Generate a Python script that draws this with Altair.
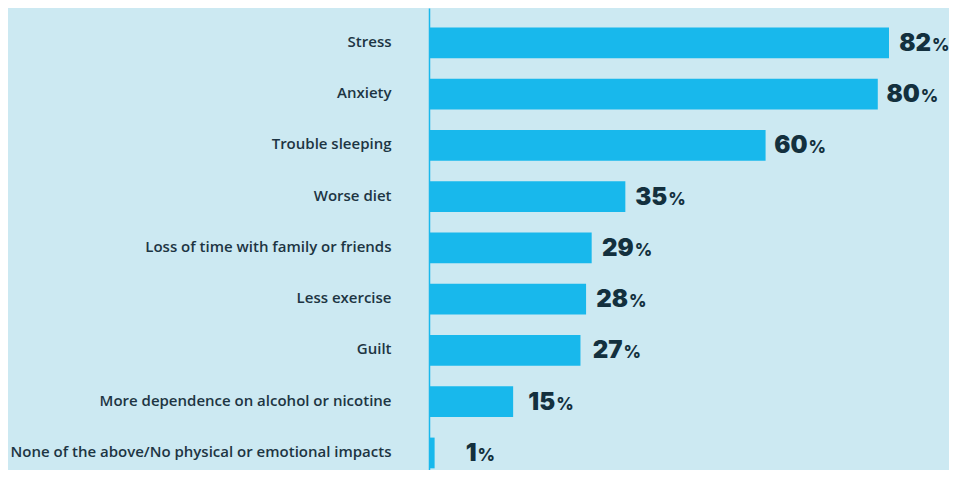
import altair as alt
import pandas as pd

categories = [
    "Stress",
    "Anxiety",
    "Trouble sleeping",
    "Worse diet",
    "Loss of time with family or friends",
    "Less exercise",
    "Guilt",
    "More dependence on alcohol or nicotine",
    "None of the above/No physical or emotional impacts",
]
values = [82, 80, 60, 35, 29, 28, 27, 15, 1]

df = pd.DataFrame({"category": categories, "value": values})

BG = "#cce9f2"
BLUE = "#18b8ec"
LABEL = "#1d3543"
VALUE = "#13303e"

y_enc = alt.Y(
    "category:N",
    sort=categories,
    scale=alt.Scale(paddingInner=0.4, paddingOuter=0.2073, align=0.922),
    axis=alt.Axis(
        title=None,
        labelPadding=38,
        ticks=False,
        domain=True,
        domainColor=BLUE,
        domainWidth=1.5,
        labelFont="Open Sans",
        labelFontSize=15,
        labelFontWeight=600,
        labelColor=LABEL,
        labelLimit=0,
        labelOffset=-1,
        grid=False,
    ),
)
x_enc = alt.X("value:Q", scale=alt.Scale(domain=[0, 82], nice=False), axis=None)

base = alt.Chart(df).encode(y=y_enc, x=x_enc)

bars = base.mark_bar(color=BLUE)
num = base.mark_text(
    align="right", baseline="alphabetic", dx=42, dy=8,
    font="Inter", fontSize=24, fontWeight=900, color=VALUE,
).encode(text="value:Q")
pct = base.mark_text(
    align="left", baseline="alphabetic", dx=43, dy=8,
    font="Inter", fontSize=17, fontWeight=800, color=VALUE,
).encode(text=alt.value("%"))

chart = (
    alt.layer(bars, num, pct)
    .properties(
        width=460,
        height=462,
        autosize=alt.AutoSizeParams(type="none"),
        padding={"left": 421, "top": 0, "right": 60, "bottom": 0},
        background=BG,
    )
    .configure_view(stroke=None)
)

chart.save("out.html", embed_options={"renderer": "svg", "actions": False})
